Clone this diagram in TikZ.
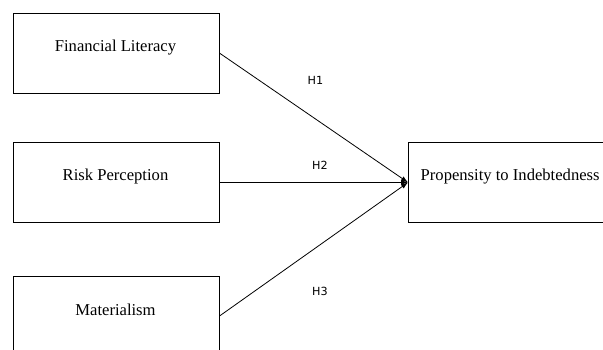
\documentclass[tikz,border=0pt]{standalone}
\usepackage{fontspec}
\setmainfont{Liberation Serif}
\newfontfamily\hfont{DejaVu Sans}
\usetikzlibrary{arrows.meta}
\begin{document}
\begin{tikzpicture}[x=1pt,y=-1pt,
  boxnode/.style={draw=black,line width=0.9pt,minimum width=206pt,minimum height=80pt,inner sep=0pt,anchor=north west},
  boxtext/.style={font=\fontsize{16.6}{18}\selectfont,inner sep=0pt},
  hlab/.style={font=\hfont\fontsize{11.2}{13}\selectfont,inner sep=0pt},
  conn/.style={line width=0.8pt,-{Latex[length=7pt,width=5pt]}}]
\useasboundingbox (0,0) rectangle (603,349);
\clip (0,0) rectangle (603,349);
\node[boxnode] (fl) at (12.7,12.7) {};
\node[boxnode] (rp) at (12.7,142) {};
\node[boxnode] (ma) at (12.7,275.5) {};
\node[boxnode,minimum width=210pt] (pi) at (408,142) {};
\node[boxtext] (flt) at (115.5,47.5) {Financial Literacy};
\node[boxtext] (rpt) at (115.5,177) {Risk Perception};
\node[boxtext] (mat) at (115.5,310) {Materialism};
\node[boxtext,anchor=west] (pit) at (420.5,177) {Propensity to Indebtedness};
\draw[conn] (fl.east) -- (pi.west);
\draw[conn] (rp.east) -- (pi.west);
\draw[conn] (ma.east) -- (pi.west);
\node[hlab] (h1) at (315.5,80) {H1};
\node[hlab] (h2) at (320,165) {H2};
\node[hlab] (h3) at (320,291) {H3};
\end{tikzpicture}
\end{document}
